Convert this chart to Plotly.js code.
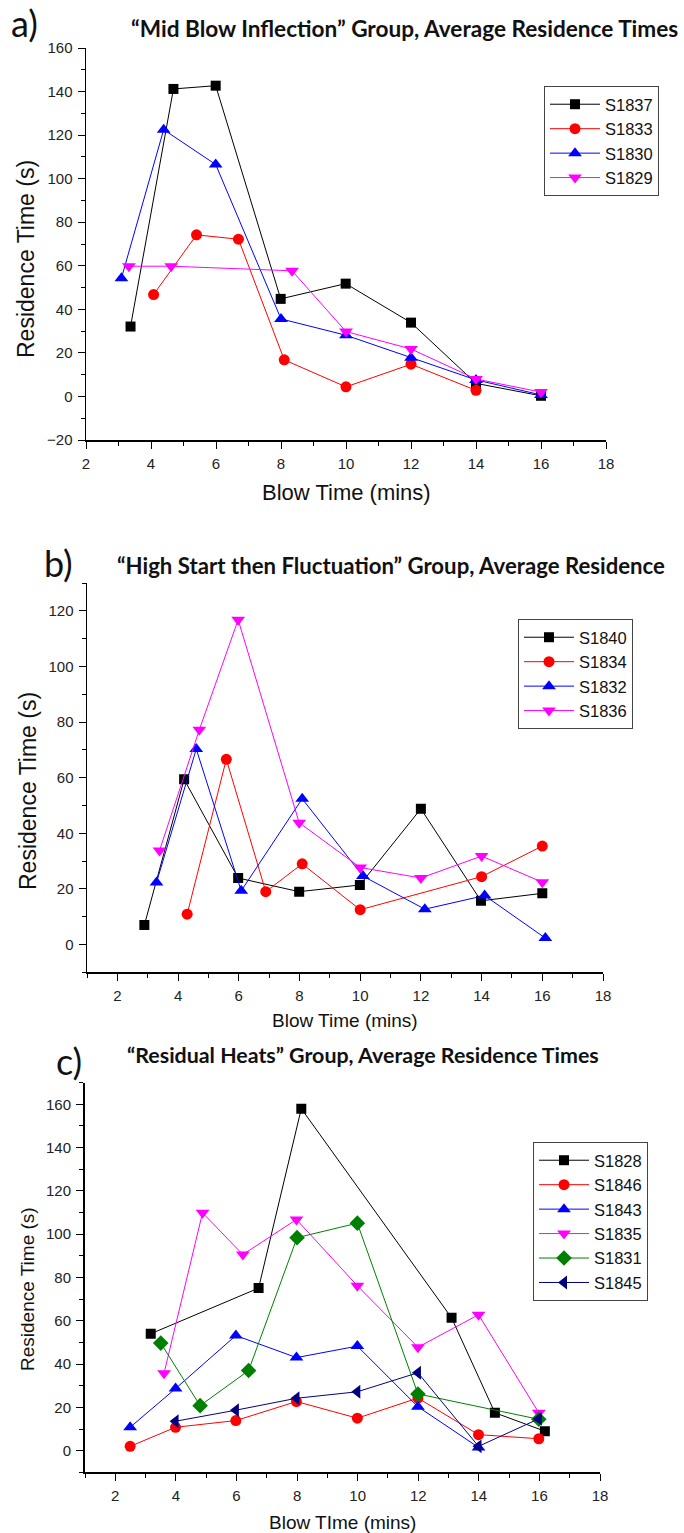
<!DOCTYPE html>
<html>
<head>
<meta charset="utf-8">
<script src="https://cdn.plot.ly/plotly-3.0.1.min.js"></script>
<style>html,body{margin:0;padding:0;background:#fff;}#chart{width:684px;height:1533px;}</style>
</head>
<body>
<div id="chart"></div>
<script>
// ---------- Panel a: "Mid Blow Inflection" ----------
const aNames = ["S1837", "S1833", "S1830", "S1829"];
const a_S1837_x = [3.37, 4.69, 5.99, 7.99, 9.99, 12.0, 14.0, 16.0];
const a_S1837_y = [32.1, 141.2, 142.7, 44.8, 51.8, 33.9, 6.0, 0.3];
const a_S1833_x = [4.08, 5.40, 6.69, 8.10, 10.0, 12.0, 14.0];
const a_S1833_y = [46.8, 74.2, 72.2, 16.8, 4.4, 14.8, 2.8];
const a_S1830_x = [3.09, 4.39, 5.99, 8.0, 10.0, 12.0, 14.0, 16.0];
const a_S1830_y = [54.3, 122.5, 106.5, 35.6, 28.1, 17.8, 7.6, 0.7];
const a_S1829_x = [3.32, 4.62, 8.34, 10.0, 12.0, 14.0, 16.0];
const a_S1829_y = [59.8, 59.8, 57.7, 29.8, 21.8, 8.0, 2.0];

// ---------- Panel b: "High Start then Fluctuation" ----------
const bNames = ["S1840", "S1834", "S1832", "S1836"];
const b_S1840_x = [2.89, 4.20, 5.98, 7.99, 9.99, 12.0, 13.98, 16.0];
const b_S1840_y = [7.0, 59.4, 23.9, 19.0, 21.4, 48.8, 15.7, 18.4];
const b_S1834_x = [4.30, 5.59, 6.89, 8.09, 10.0, 14.0, 16.0];
const b_S1834_y = [10.9, 66.6, 19.0, 29.0, 12.5, 24.4, 35.4];
const b_S1832_x = [3.29, 4.60, 6.08, 8.09, 10.09, 12.13, 14.1, 16.1];
const b_S1832_y = [22.3, 70.3, 19.3, 52.4, 24.6, 12.7, 17.6, 2.3];
const b_S1836_x = [3.39, 4.70, 5.98, 7.99, 10.0, 12.0, 14.0, 16.0];
const b_S1836_y = [33.8, 77.2, 116.8, 43.8, 27.7, 23.9, 31.8, 22.4];

// ---------- Panel c: "Residual Heats" ----------
const cNames = ["S1828", "S1846", "S1843", "S1835", "S1831", "S1845"];
const c_S1828_x = [3.17, 6.73, 8.14, 13.10, 14.53, 16.18];
const c_S1828_y = [54.0, 75.1, 158.0, 61.4, 17.5, 9.0];
const c_S1846_x = [2.49, 3.99, 5.98, 7.98, 9.99, 11.99, 13.99, 15.98];
const c_S1846_y = [2.0, 10.8, 13.9, 22.7, 15.0, 24.3, 7.4, 5.5];
const c_S1843_x = [2.49, 3.99, 5.98, 7.98, 9.99, 11.99, 13.99];
const c_S1843_y = [10.8, 28.7, 53.2, 43.0, 48.3, 20.3, 1.5];
const c_S1835_x = [3.61, 4.88, 6.21, 7.98, 9.99, 11.99, 13.99, 15.98];
const c_S1835_y = [35.8, 109.9, 90.6, 106.8, 76.2, 47.8, 62.8, 17.5];
const c_S1831_x = [3.50, 4.80, 6.40, 8.0, 9.99, 11.99, 15.98];
const c_S1831_y = [49.7, 20.8, 37.0, 98.4, 105.1, 26.2, 14.5];
const c_S1845_x = [3.99, 5.98, 7.98, 9.99, 11.99, 13.99, 15.98];
const c_S1845_y = [13.6, 18.7, 24.2, 27.2, 36.0, 2.0, 14.7];

// ---------- Text ----------
const panelLabels = ["a)", "b)", "c)"];
const panelTitles = [
  "\u201CMid Blow Inflection\u201D Group, Average Residence Times",
  "\u201CHigh Start then Fluctuation\u201D Group, Average Residence",
  "\u201CResidual Heats\u201D Group, Average Residence Times"
];
const yTitle = "Residence Time (s)";
const xTitles = ["Blow Time (mins)", "Blow Time (mins)", "Blow TIme (mins)"];

// ---------- Styles ----------
const W = 684, H = 1533;
const px = v => v / W;
const py = v => 1 - v / H;
const styles = {
  black:   {color: "#000000", symbol: "square", size: 10},
  red:     {color: "#FF0000", symbol: "circle", size: 11},
  blue:    {color: "#0000FF", symbol: "triangle-up", size: 12},
  magenta: {color: "#FF00FF", symbol: "triangle-down", size: 12},
  green:   {color: "#008000", symbol: "diamond", size: 12},
  navy:    {color: "#000080", symbol: "triangle-left", size: 12}
};
function tr(name, x, y, st, xa, ya, leg) {
  const s = styles[st];
  return {
    type: "scatter", mode: "lines+markers", name: name, x: x, y: y,
    xaxis: xa, yaxis: ya, legend: leg,
    line: {color: s.color, width: 1},
    marker: {color: s.color, symbol: s.symbol, size: s.size, line: {width: 0}}
  };
}
const data = [
  tr(aNames[0], a_S1837_x, a_S1837_y, "black", "x", "y", "legend"),
  tr(aNames[1], a_S1833_x, a_S1833_y, "red", "x", "y", "legend"),
  tr(aNames[2], a_S1830_x, a_S1830_y, "blue", "x", "y", "legend"),
  tr(aNames[3], a_S1829_x, a_S1829_y, "magenta", "x", "y", "legend"),
  tr(bNames[0], b_S1840_x, b_S1840_y, "black", "x2", "y2", "legend2"),
  tr(bNames[1], b_S1834_x, b_S1834_y, "red", "x2", "y2", "legend2"),
  tr(bNames[2], b_S1832_x, b_S1832_y, "blue", "x2", "y2", "legend2"),
  tr(bNames[3], b_S1836_x, b_S1836_y, "magenta", "x2", "y2", "legend2"),
  tr(cNames[0], c_S1828_x, c_S1828_y, "black", "x3", "y3", "legend3"),
  tr(cNames[1], c_S1846_x, c_S1846_y, "red", "x3", "y3", "legend3"),
  tr(cNames[2], c_S1843_x, c_S1843_y, "blue", "x3", "y3", "legend3"),
  tr(cNames[3], c_S1835_x, c_S1835_y, "magenta", "x3", "y3", "legend3"),
  tr(cNames[4], c_S1831_x, c_S1831_y, "green", "x3", "y3", "legend3"),
  tr(cNames[5], c_S1845_x, c_S1845_y, "navy", "x3", "y3", "legend3")
];

const tickFont = {family: "Liberation Sans Narrow, Arial Narrow, Liberation Sans, Arial, sans-serif", size: 15, color: "#222"};
function xAx(dom, range, yref, lw) {
  return {
    domain: dom, range: range, anchor: yref, tick0: 2, dtick: 2,
    showline: true, linecolor: "#000", linewidth: lw, mirror: false,
    ticks: "outside", ticklen: 7, tickwidth: 1, tickcolor: "#000",
    showgrid: false, zeroline: false, tickfont: tickFont, ticklabelstandoff: 2,
    minor: {dtick: 1, tick0: 1, ticks: "outside", ticklen: 4, tickwidth: 1, tickcolor: "#000", showgrid: false}
  };
}
function yAx(dom, range, xref, lw) {
  return {
    domain: dom, range: range, anchor: xref, tick0: 0, dtick: 20,
    showline: true, linecolor: "#000", linewidth: lw, mirror: false,
    ticks: "outside", ticklen: 7, tickwidth: 1, tickcolor: "#000",
    showgrid: false, zeroline: false, tickfont: tickFont, ticklabelstandoff: 2,
    minor: {dtick: 10, tick0: 0, ticks: "outside", ticklen: 4, tickwidth: 1, tickcolor: "#000", showgrid: false}
  };
}
function legendAt(x, y) {
  return {
    x: px(x), y: py(y), xanchor: "left", yanchor: "top",
    bordercolor: "#444", borderwidth: 1, bgcolor: "rgba(255,255,255,0)",
    font: {family: "Liberation Sans, Arial, sans-serif", size: 16.5, color: "#111"},
    tracegroupgap: 0, itemclick: false, itemwidth: 50
  };
}
const labelFont = {family: "Lato, Carlito, Calibri, sans-serif", size: 36, color: "#111"};
const titleFont = s => ({family: "Lato, Carlito, Calibri, sans-serif", size: s, color: "#111", weight: "bold"});
function ann(text, x, y, font, xanchor, extra) {
  return Object.assign({text: text, x: px(x), y: py(y), xref: "paper", yref: "paper",
    xanchor: xanchor, yanchor: "middle", showarrow: false, font: font}, extra || {});
}
const axTitleFont = s => ({family: "Liberation Sans, Arial, sans-serif", size: s, color: "#111"});

const layout = {
  width: W, height: H, margin: {l: 0, r: 0, t: 0, b: 0},
  paper_bgcolor: "#fff", plot_bgcolor: "#fff", showlegend: true,
  xaxis:  xAx([px(86), px(606)], [2, 18], "y", 1.5),
  yaxis:  yAx([py(440), py(48)], [-20, 160], "x", 1.5),
  xaxis2: xAx([px(87), px(603)], [1, 18], "y2", 1.5),
  yaxis2: yAx([py(972.3), py(583)], [-10, 130], "x2", 1.5),
  xaxis3: xAx([px(85), px(600)], [1, 18], "y3", 2),
  yaxis3: yAx([py(1472.3), py(1082.7)], [-10, 170], "x3", 2),
  legend:  legendAt(544, 86),
  legend2: legendAt(518, 619),
  legend3: legendAt(533, 1142),
  annotations: [
    ann(panelLabels[0], 9, 23, labelFont, "left"),
    ann(panelLabels[1], 42, 563, labelFont, "left"),
    ann(panelLabels[2], 54, 1061, labelFont, "left"),
    ann(panelTitles[0], 129, 28, titleFont(22.6), "left"),
    ann(panelTitles[1], 115, 565, titleFont(22.2), "left"),
    ann(panelTitles[2], 125, 1055, titleFont(21.4), "left"),
    ann(yTitle, 26, 259, axTitleFont(23), "center", {textangle: -90}),
    ann(yTitle, 28, 791, axTitleFont(23), "center", {textangle: -90}),
    ann(yTitle, 27, 1289, axTitleFont(19), "center", {textangle: -90}),
    ann(xTitles[0], 346, 492, axTitleFont(22), "center"),
    ann(xTitles[1], 345, 1020, axTitleFont(19), "center"),
    ann(xTitles[2], 342, 1522, axTitleFont(19), "center")
  ]
};
Plotly.newPlot("chart", data, layout, {displayModeBar: false, staticPlot: true});
</script>
</body>
</html>
